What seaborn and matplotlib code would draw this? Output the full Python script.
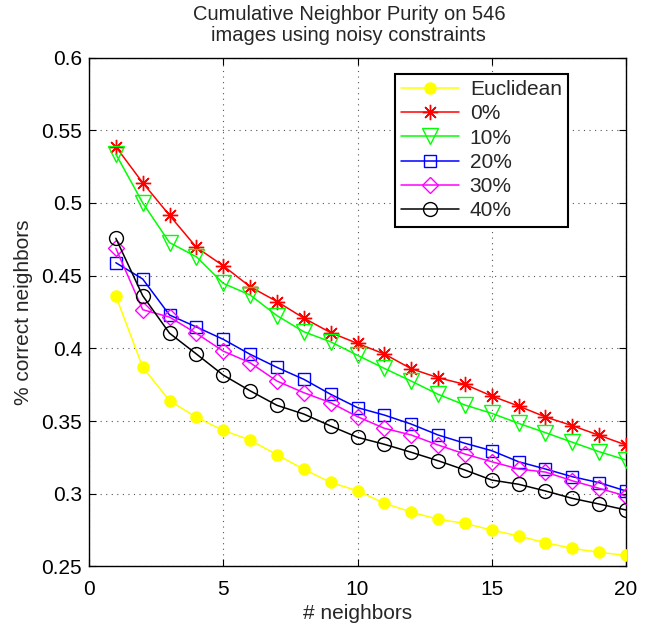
import matplotlib
matplotlib.use("Agg")
import matplotlib.pyplot as plt
import seaborn as sns
import pandas as pd

neighbors = list(range(1, 21))
euclidean = [0.436, 0.387, 0.364, 0.3525, 0.3436, 0.3369, 0.3268, 0.3168, 0.3078, 0.302,
             0.2934, 0.2874, 0.2824, 0.2796, 0.275, 0.2709, 0.2663, 0.2624, 0.2597, 0.2576]
noise_0 = [0.5387, 0.5139, 0.4915, 0.4695, 0.4568, 0.4424, 0.4322, 0.4208, 0.4108, 0.4034,
           0.3961, 0.386, 0.3798, 0.3752, 0.3672, 0.3603, 0.3528, 0.3468, 0.3402, 0.3335]
noise_10 = [0.5336, 0.5001, 0.4727, 0.463, 0.4447, 0.4367, 0.4225, 0.4114, 0.4045, 0.3952,
            0.3862, 0.3775, 0.3684, 0.361, 0.3553, 0.3484, 0.342, 0.3354, 0.3289, 0.3232]
noise_20 = [0.4589, 0.4477, 0.4229, 0.4147, 0.4062, 0.3959, 0.3869, 0.3787, 0.3684, 0.3592,
            0.3541, 0.3479, 0.3404, 0.3347, 0.3296, 0.322, 0.317, 0.3117, 0.3076, 0.3019]
noise_30 = [0.4688, 0.4266, 0.4215, 0.4103, 0.3981, 0.3901, 0.3775, 0.3695, 0.3626, 0.353,
            0.345, 0.3404, 0.3335, 0.3273, 0.322, 0.317, 0.3149, 0.3089, 0.3037, 0.2984]
noise_40 = [0.4757, 0.4362, 0.4104, 0.3961, 0.3816, 0.3708, 0.3608, 0.3548, 0.3466, 0.3388,
            0.334, 0.3285, 0.3227, 0.3163, 0.3094, 0.3065, 0.3019, 0.2968, 0.2929, 0.2888]

series_names = ["Euclidean", "0%", "10%", "20%", "30%", "40%"]
series_values = [euclidean, noise_0, noise_10, noise_20, noise_30, noise_40]

x_ticks = [0, 5, 10, 15, 20]
y_ticks = [0.25, 0.3, 0.35, 0.4, 0.45, 0.5, 0.55, 0.6]
y_tick_labels = ["0.25", "0.3", "0.35", "0.4", "0.45", "0.5", "0.55", "0.6"]

styles = {
    "Euclidean": dict(color="#ffff00", marker="o", ms=8, mfc="#ffff00", mec="#ffff00"),
    "0%": dict(color="#ff0000", marker=(8, 2, 0), ms=11, mfc="#ff0000", mec="#ff0000"),
    "10%": dict(color="#00ff00", marker="v", ms=11, mfc="none", mec="#00ff00"),
    "20%": dict(color="#0000ff", marker="s", ms=9, mfc="none", mec="#0000ff"),
    "30%": dict(color="#ff00ff", marker="D", ms=8, mfc="none", mec="#ff00ff"),
    "40%": dict(color="#000000", marker="o", ms=10, mfc="none", mec="#000000"),
}

sns.set_theme(style="white")
plt.rcParams["font.family"] = ["Liberation Sans", "DejaVu Sans"]

fig = plt.figure(figsize=(6.51, 6.3), dpi=100)
ax = fig.add_axes([89 / 651, 1 - 566.4 / 630, (626 - 89) / 651, (566.4 - 57.6) / 630])

for name, vals in zip(series_names, series_values):
    df = pd.DataFrame({"neighbors": neighbors, "value": vals})
    st = styles[name]
    sns.lineplot(data=df, x="neighbors", y="value", ax=ax, color=st["color"],
                 marker=st["marker"], markersize=st["ms"], markerfacecolor=st["mfc"],
                 markeredgecolor=st["mec"], markeredgewidth=1.0, linewidth=1.1,
                 label=name, zorder=3)

ax.set_xlim(0, 20)
ax.set_ylim(0.25, 0.6)
ax.set_xticks(x_ticks)
ax.set_xticklabels([str(t) for t in x_ticks])
ax.set_yticks(y_ticks)
ax.set_yticklabels(y_tick_labels)
ax.grid(True, linestyle=(0, (1, 4)), color="#555555", linewidth=0.8)
ax.tick_params(direction="in", length=5, width=0.8, labelsize=15, colors="black",
               top=True, right=True, bottom=True, left=True, pad=5)
ax.tick_params(axis="x", pad=9.5)
for sp in ax.spines.values():
    sp.set_color("black")
    sp.set_linewidth(1.0)

ax.set_xlabel("# neighbors", fontsize=15, labelpad=4)
ax.set_ylabel("% correct neighbors", fontsize=15, labelpad=6)
ax.set_title("Cumulative Neighbor Purity on 546\nimages using noisy constraints",
             fontsize=14.5, pad=12, linespacing=1.1, x=0.484)

leg = ax.legend(loc="upper right", bbox_to_anchor=(568 / 651, 1 - 74 / 630),
                bbox_transform=fig.transFigure, borderaxespad=0, fontsize=15,
                frameon=True, fancybox=False, framealpha=1, edgecolor="black",
                handlelength=2.8, handletextpad=0.5, labelspacing=0.25,
                borderpad=0.3)
leg.get_frame().set_linewidth(1.5)

fig.savefig("out.png", dpi=100, facecolor="white")
